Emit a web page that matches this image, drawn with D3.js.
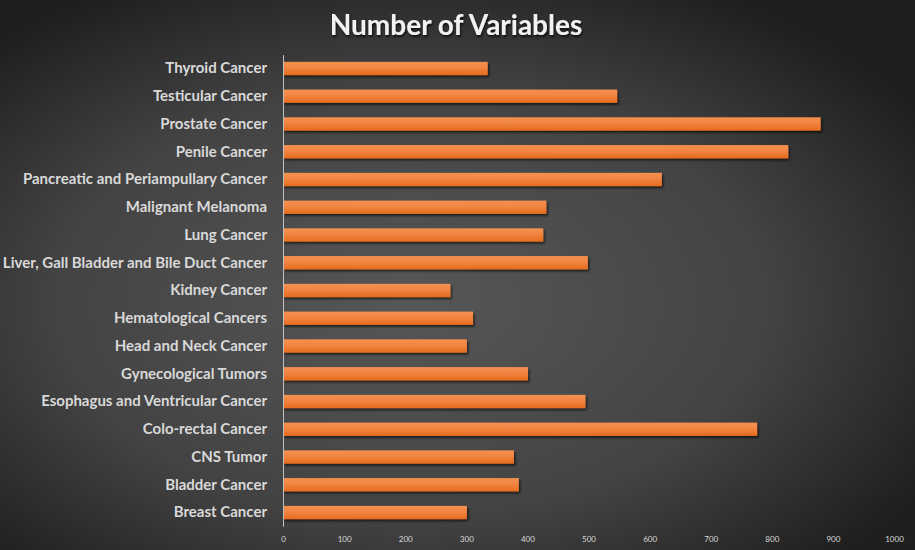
<!DOCTYPE html>
<html><head><meta charset="utf-8">
<script src="https://cdn.jsdelivr.net/npm/d3@7"></script>
<style>html,body{margin:0;padding:0;background:#333;}svg{display:block;}</style>
</head><body>
<svg id="chart" width="915" height="550"></svg>
<script>
const categories = ["Thyroid Cancer","Testicular Cancer","Prostate Cancer","Penile Cancer","Pancreatic and Periampullary Cancer","Malignant Melanoma","Lung Cancer","Liver, Gall Bladder and Bile Duct Cancer","Kidney Cancer","Hematological Cancers","Head and Neck Cancer","Gynecological Tumors","Esophagus and Ventricular Cancer","Colo-rectal Cancer","CNS Tumor","Bladder Cancer","Breast Cancer"];
const values = [335,547,880,827,620,431,426,499,274,311,301,401,495,776,378,386,301];
const xTicks = [0,100,200,300,400,500,600,700,800,900,1000];
const title = "Number of Variables";

const svg = d3.select("#chart");
const W = 915, H = 550;
const defs = svg.append("defs");
const bg = defs.append("radialGradient").attr("id","bg").attr("cx","0.45").attr("cy","0.55").attr("r","0.65");
bg.append("stop").attr("offset","0%").attr("stop-color","#575757");
bg.append("stop").attr("offset","60%").attr("stop-color","#434343");
bg.append("stop").attr("offset","100%").attr("stop-color","#1f1f1f");
const bar = defs.append("linearGradient").attr("id","bar").attr("x1","0").attr("y1","0").attr("x2","0").attr("y2","1");
bar.append("stop").attr("offset","0%").attr("stop-color","#f4914f");
bar.append("stop").attr("offset","45%").attr("stop-color","#f28543");
bar.append("stop").attr("offset","100%").attr("stop-color","#e56b1c");
const sh = defs.append("filter").attr("id","sh").attr("x","-5%").attr("y","-30%").attr("width","110%").attr("height","180%");
sh.append("feDropShadow").attr("dx",1.5).attr("dy",2).attr("stdDeviation",1.2).attr("flood-color","#000").attr("flood-opacity",0.6);
const tsh = defs.append("filter").attr("id","tsh").attr("x","-5%").attr("y","-20%").attr("width","110%").attr("height","150%");
tsh.append("feDropShadow").attr("dx",1).attr("dy",2).attr("stdDeviation",1.2).attr("flood-color","#000").attr("flood-opacity",0.7);

svg.append("rect").attr("width",W).attr("height",H).attr("fill","url(#bg)");

const x = d3.scaleLinear().domain([0,1000]).range([283,894]);
const y = d3.scaleBand().domain(categories).range([54.6,526.4]).paddingInner(0.52).paddingOuter(0.26);

svg.append("text").attr("x",456).attr("y",35).attr("text-anchor","middle")
  .attr("font-family","Lato, 'Open Sans', sans-serif").attr("font-weight","bold").attr("font-size",28)
  .attr("fill","#f2f2f2").attr("filter","url(#tsh)").text(title);

svg.append("g").selectAll("rect").data(categories).join("rect")
  .attr("x",x(0)).attr("y",d=>y(d)).attr("height",y.bandwidth())
  .attr("width",(d,i)=>x(values[i])-x(0)).attr("fill","url(#bar)").attr("filter","url(#sh)");

const yAxis = svg.append("g").attr("transform",`translate(${x(0)},0)`)
  .call(d3.axisLeft(y).tickSize(0).tickPadding(16));
yAxis.select(".domain").attr("stroke","#bfbfbf").attr("stroke-width",1);
yAxis.selectAll("text").attr("font-family","Lato, 'Open Sans', sans-serif").attr("font-weight","bold")
  .attr("font-size",15).attr("fill","#d9d9d9");

const xAxis = svg.append("g").attr("transform","translate(0,526)")
  .call(d3.axisBottom(x).tickValues(xTicks).tickFormat(d3.format("d")).tickSize(0).tickPadding(10));
xAxis.select(".domain").remove();
xAxis.selectAll("text").attr("font-family","Lato, 'Open Sans', sans-serif")
  .attr("font-size",8).attr("fill","#d9d9d9");
</script>
</body></html>
